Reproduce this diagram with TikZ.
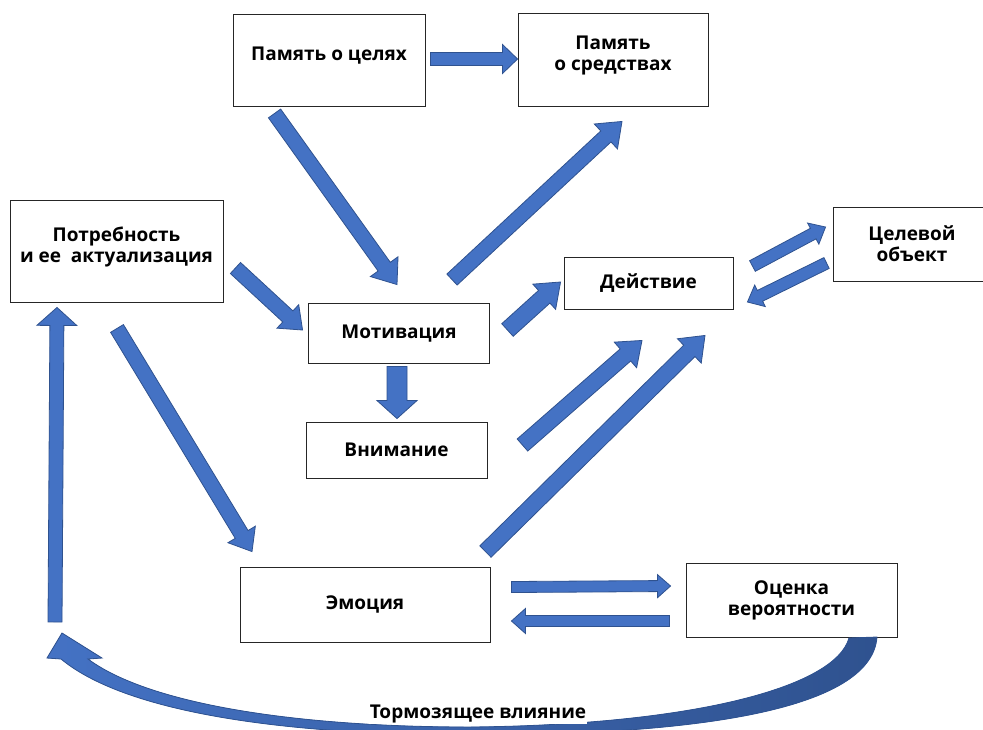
\documentclass[tikz,border=0pt]{standalone}
\usepackage{fontspec}
\setmainfont{Open Sans}
\usepackage{tikz}
\usetikzlibrary{calc}
\definecolor{arrowblue}{HTML}{4472C4}
\definecolor{arrowedge}{HTML}{2F528F}
\tikzset{box/.style={draw=black!85, line width=0.9pt, align=center, inner sep=0pt,
    font=\bfseries\fontsize{19}{21}\selectfont},
  high/.style={text depth=13pt},
  blockarrow/.style={fill=arrowblue, draw=arrowedge, line width=0.8pt, line join=miter}}
% #1 tail, #2 tip, #3 shaft half width, #4 head half width, #5 head length
\newcommand{\blockarr}[5]{
  \coordinate (bt) at (#1);
  \coordinate (bh) at (#2);
  \coordinate (bb) at ($(bh)!#5!(bt)$);
  \filldraw[blockarrow] ($(bt)!#3!90:(bh)$) -- ($(bb)!#3!90:(bh)$) -- ($(bb)!#4!90:(bh)$)
    -- (bh) -- ($(bb)!#4!-90:(bh)$) -- ($(bb)!#3!-90:(bh)$) -- ($(bt)!#3!-90:(bh)$) -- cycle;
}

\begin{document}
\begin{tikzpicture}[x=1pt, y=-1pt]
   \useasboundingbox (0,0) rectangle (983,729);
   \node(pamcel) [box, high, minimum width=192pt, minimum height=92pt] at (329,60) {Память о целях};
   \node(pamsr) [box, high, minimum width=190pt, minimum height=93pt] at (613,59.5) {Память\\о средствах};
   \node(potr) [box, high, minimum width=213pt, minimum height=102pt] at (116.5,251) {Потребность\\и ее\ \ актуализация};
   \node(motiv) [box, minimum width=181pt, minimum height=60pt] at (399,333.5) {Мотивация};
   \node(vnim) [box, minimum width=181pt, minimum height=56pt] at (396.5,450) {Внимание};
   \node(deistv) [box, minimum width=169pt, minimum height=52pt] at (648.5,283) {Действие};
   \node(tsel) [box, minimum width=158pt, minimum height=74pt] at (912,244) {Целевой\\объект};
   \node(emo) [box, minimum width=250pt, minimum height=75pt] at (365,604.5) {Эмоция};
   \node(otsen) [box, minimum width=211pt, minimum height=74pt] at (791.5,600) {Оценка\\вероятности};
   \coordinate (upstart) at (55,622);

   \blockarr{[shift={(5,-1)}]pamcel.east}{[shift={(0,-0.5)}]pamsr.west}{6.5pt}{14.5pt}{15pt}
   \blockarr{[shift={(42,7)}]pamcel.south west}{[shift={(-2,-18.5)}]motiv.north}{7.5pt}{17pt}{22pt}
   \blockarr{[shift={(53,-23.5)}]motiv.north}{[shift={(9,15)}]pamsr.south}{7.5pt}{17pt}{22pt}
   \blockarr{[shift={(12,17)}]potr.east}{[shift={(-5.5,-3.5)}]motiv.west}{7.5pt}{16pt}{20pt}
   \blockarr{[shift={(0.5,26)}]potr.south}{[shift={(-113,-15)}]emo.north}{7.5pt}{16pt}{20pt}
   \blockarr{[shift={(-2,2.5)}]motiv.south}{[shift={(0.5,-3)}]vnim.north}{10pt}{20pt}{18pt}
   \blockarr{[shift={(17.5,-3.5)}]motiv.east}{[shift={(-3,-1)}]deistv.west}{8.5pt}{17pt}{22pt}
   \blockarr{[shift={(35,-5)}]vnim.east}{[shift={(-6.5,31)}]deistv.south}{8pt}{17pt}{22pt}
   \blockarr{[shift={(-5,-15)}]emo.north east}{[shift={(56.5,26)}]deistv.south}{8pt}{17pt}{22pt}
   \blockarr{[shift={(19,-17)}]deistv.east}{[shift={(-7,-17)}]tsel.west}{6pt}{12pt}{14pt}
   \blockarr{[shift={(-6,19)}]tsel.west}{[shift={(14,19)}]deistv.east}{6pt}{12pt}{14pt}
   \blockarr{[shift={(21,-17.5)}]emo.east}{[shift={(-15,-14)}]otsen.west}{5.5pt}{11.5pt}{13pt}
   \blockarr{[shift={(-16,21)}]otsen.west}{[shift={(21,16.5)}]emo.east}{5.5pt}{12.5pt}{14pt}
   \blockarr{upstart}{[shift={(-59.5,5)}]potr.south}{7pt}{20pt}{18pt}

   \filldraw[blockarrow, left color=arrowblue, right color=arrowedge]
     (62,633) -- (102,658) -- (88,659)
     .. controls (150,705) and (300,727) .. (470,727)
     .. controls (690,725) and (835,688) .. (849,638)
     -- (877,637)
     .. controls (872,705) and (720,735) .. (470,735)
     .. controls (300,735) and (130,716) .. (61,659)
     -- (47,658) -- cycle;
   \node(torm) [fill=white, inner sep=1pt, font=\bfseries\fontsize{19}{21}\selectfont] at (478,714) {Тормозящее влияние};
\end{tikzpicture}
\end{document}
